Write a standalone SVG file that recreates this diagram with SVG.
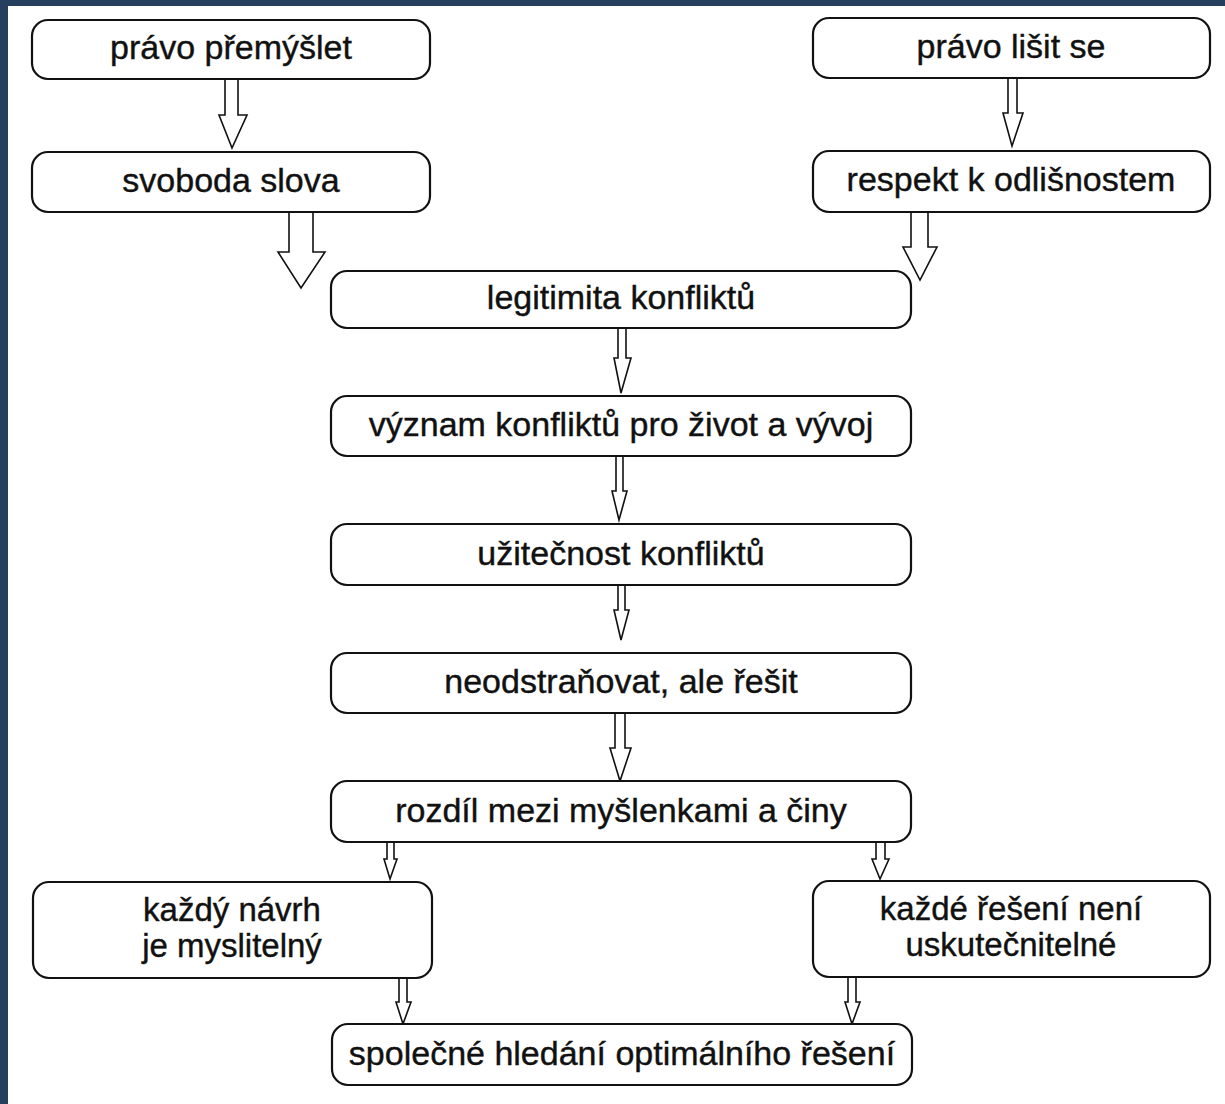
<svg xmlns="http://www.w3.org/2000/svg" width="1225" height="1104" viewBox="0 0 1225 1104">
<style>
.box{fill:#fff;stroke:#111;stroke-width:2.2}
.arr{fill:#fff;stroke:#111;stroke-width:1.6;stroke-linejoin:miter}
text{font-family:"Liberation Sans",Arial,sans-serif;font-size:34px;fill:#111;stroke:#111;stroke-width:0.4;text-anchor:middle}
.two{font-size:33px}
</style>
<rect x="0" y="0" width="1225" height="1104" fill="#fff"/>
<rect x="0" y="0" width="1225" height="6" fill="#263f5f"/>
<rect x="0" y="0" width="8" height="1104" fill="#263f5f"/>
<g id="connectors">
<polygon class="arr" points="225,79 238,79 238,115 247,115 232,148 219,115 225,115"/>
<polygon class="arr" points="289,212 313,212 313,252 325,252 301,288 278,252 289,252"/>
<polygon class="arr" points="1008,78 1017,78 1017,113 1023,113 1012,146 1003,113 1008,113"/>
<polygon class="arr" points="911,212 928,212 928,247 937,247 920,280 903,247 911,247"/>
<polygon class="arr" points="618,328 626,328 626,358 631,358 621,393 614,358 618,358"/>
<polygon class="arr" points="616,456 623,456 623,491 627,491 619,520 612,491 616,491"/>
<polygon class="arr" points="618,585 625,585 625,610 629,610 621,640 614,610 618,610"/>
<polygon class="arr" points="615,713 625,713 625,748 631,748 620,781 610,748 615,748"/>
<polygon class="arr" points="387,842 394,842 394,859 397,859 390,879 384,859 387,859"/>
<polygon class="arr" points="876,842 885,842 885,859 889,859 880,879 872,859 876,859"/>
<polygon class="arr" points="399,978 407,978 407,1002 411,1002 403,1024 396,1002 399,1002"/>
<polygon class="arr" points="848,977 856,977 856,1002 860,1002 852,1024 845,1002 848,1002"/>
</g>
<g id="n1"><rect class="box" x="32" y="20" width="398" height="59" rx="16"/><text x="231" y="59">právo přemýšlet</text></g>
<g id="n2"><rect class="box" x="32" y="152" width="398" height="60" rx="16"/><text x="231" y="192">svoboda slova</text></g>
<g id="n3"><rect class="box" x="813" y="18" width="397" height="60" rx="16"/><text x="1011" y="58">právo lišit se</text></g>
<g id="n4"><rect class="box" x="813" y="151" width="397" height="61" rx="16"/><text x="1011" y="191">respekt k odlišnostem</text></g>
<g id="n5"><rect class="box" x="331" y="271" width="580" height="57" rx="16"/><text x="621" y="309">legitimita konfliktů</text></g>
<g id="n6"><rect class="box" x="331" y="396" width="580" height="60" rx="16"/><text x="621" y="436">význam konfliktů pro život a vývoj</text></g>
<g id="n7"><rect class="box" x="331" y="524" width="580" height="61" rx="16"/><text x="621" y="565">užitečnost konfliktů</text></g>
<g id="n8"><rect class="box" x="331" y="653" width="580" height="60" rx="16"/><text x="621" y="693">neodstraňovat, ale řešit</text></g>
<g id="n9"><rect class="box" x="331" y="781" width="580" height="61" rx="16"/><text x="621" y="822">rozdíl mezi myšlenkami a činy</text></g>
<g id="n10"><rect class="box" x="33" y="882" width="399" height="96" rx="16"/><text class="two" x="232" y="921">každý návrh</text><text class="two" x="232" y="957">je myslitelný</text></g>
<g id="n11"><rect class="box" x="813" y="881" width="397" height="96" rx="16"/><text class="two" x="1011" y="920">každé řešení není</text><text class="two" x="1011" y="956">uskutečnitelné</text></g>
<g id="n12"><rect class="box" x="332" y="1024" width="580" height="61" rx="16"/><text x="622" y="1065">společné hledání optimálního řešení</text></g>
</svg>
